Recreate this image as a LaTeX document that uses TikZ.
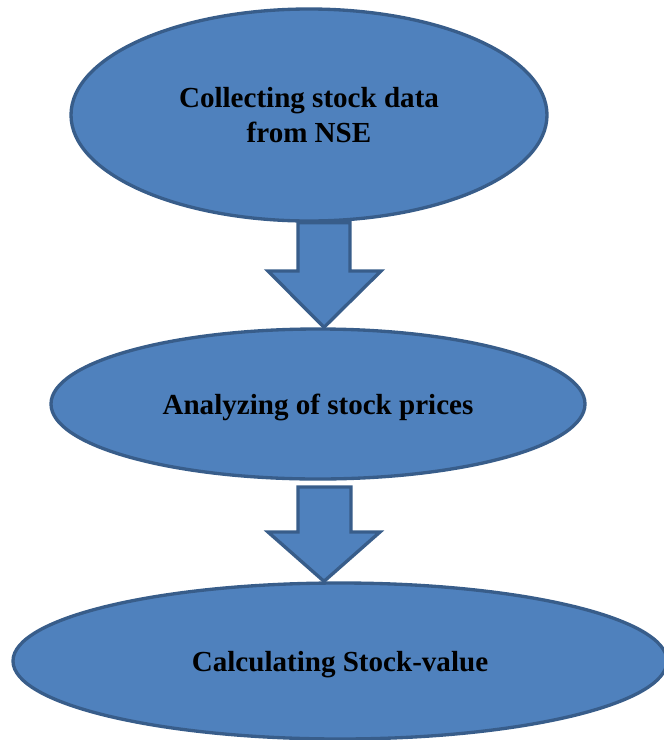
\documentclass[tikz,border=0pt]{standalone}
\usepackage{fontspec}
\setmainfont{Liberation Serif}
\usetikzlibrary{shapes.geometric,backgrounds}
\definecolor{stepfill}{HTML}{4F81BD}
\definecolor{stepline}{HTML}{385D8A}
\tikzset{
  stepnode/.style={ellipse, draw=stepline, fill=stepfill, line width=2.5pt,
    inner sep=0pt, align=center, text=black, text depth=0pt,
    font=\fontsize{21.8}{26}\selectfont\bfseries},
  blockarrow/.style={draw=stepline, fill=stepfill, line width=2.5pt, line join=miter}
}
\begin{document}
\begin{tikzpicture}[x=0.75pt,y=0.75pt]
    \useasboundingbox (0,0) rectangle (664,-740);
    \node [stepnode, minimum width=357pt, minimum height=159pt] (collect) at (309,-115) {Collecting stock data\\from NSE};
    \node [stepnode, minimum width=400.5pt, minimum height=112.5pt] (analyze) at (318,-404) {Analyzing of stock prices};
    \node [stepnode, minimum width=490.5pt, minimum height=117pt] (calc) at (340,-661) {Calculating Stock-value};
    \begin{scope}[on background layer]
    \draw [blockarrow] (collect.south -| 298,0) -- (298,-271) -- (268,-271) -- (analyze.north -| 324,0)
        -- (381,-271) -- (350,-271) -- (collect.south -| 350,0) -- cycle;
    \draw [blockarrow] (298,-487) -- (298,-532) -- (268,-532) -- (calc.north -| 324,0)
        -- (380,-532) -- (351,-532) -- (351,-487) -- cycle;
    \end{scope}
\end{tikzpicture}
\end{document}
